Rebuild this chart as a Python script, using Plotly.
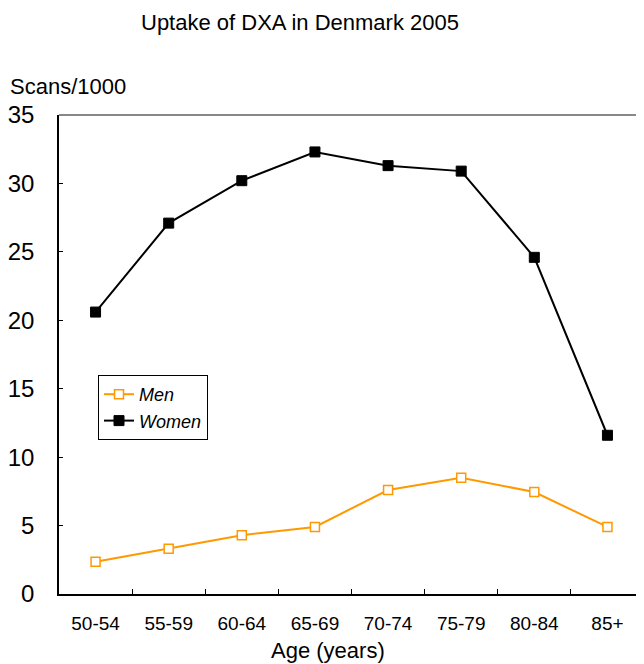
import plotly.graph_objects as go

categories = ["50-54", "55-59", "60-64", "65-69", "70-74", "75-79", "80-84", "85+"]
men = [2.35, 3.3, 4.3, 4.9, 7.6, 8.5, 7.45, 4.9]
women = [20.6, 27.1, 30.2, 32.3, 31.3, 30.9, 24.6, 11.6]
y_ticks = [0, 5, 10, 15, 20, 25, 30, 35]

FONT = "Liberation Sans, Arial, sans-serif"
ORANGE = "#FF9900"

# page offset (browser body margin)
OFF = 8
W, H = 644 - OFF, 664 - OFF
L, T = 59 - OFF, 115 - OFF
B = H - (594 - OFF)
PW, PH = W - L, H - T - B


def px(x):
    return (x - OFF - L) / PW


def py(y):
    return (H - B - (y - OFF)) / PH


fig = go.Figure()
fig.add_trace(go.Scatter(
    x=categories, y=men, name="Men", mode="lines+markers",
    line=dict(color=ORANGE, width=2),
    marker=dict(symbol="square", size=9, color="white",
                line=dict(color=ORANGE, width=1.5)),
))
fig.add_trace(go.Scatter(
    x=categories, y=women, name="Women", mode="lines+markers",
    line=dict(color="black", width=2),
    marker=dict(symbol="square", size=10, color="black",
                line=dict(color="black", width=1)),
))

fig.update_layout(
    width=W, height=H,
    margin=dict(l=L, r=0, t=T, b=B),
    paper_bgcolor="white", plot_bgcolor="white",
    font=dict(family=FONT, color="black"),
    showlegend=True,
    legend=dict(
        x=px(98), y=py(375), xanchor="left", yanchor="top",
        bordercolor="black", borderwidth=1, bgcolor="white",
        font=dict(size=18, family=FONT, style="italic"),
        tracegroupgap=0, itemwidth=30,
    ),
    xaxis=dict(
        type="category", categoryorder="array", categoryarray=categories,
        range=[-0.5, 7.5],
        showgrid=False, zeroline=False,
        showline=True, linecolor="black", linewidth=1.5,
        ticks="inside", ticklen=5, tickcolor="black", tickson="boundaries",
        tickfont=dict(size=19, family=FONT),
        ticklabelstandoff=11,
    ),
    yaxis=dict(
        range=[0, 35], tickvals=y_ticks,
        showgrid=False, zeroline=False,
        showline=True, linecolor="black", linewidth=1.5,
        ticks="inside", ticklen=4, tickcolor="black",
        tickfont=dict(size=24, family=FONT),
        ticklabelstandoff=18,
    ),
    shapes=[dict(type="line", xref="paper", yref="paper", x0=0, x1=1, y0=1, y1=1,
                 line=dict(color="#888888", width=2))],
    annotations=[
        dict(text="Uptake of DXA in Denmark 2005", xref="paper", yref="paper",
             x=px(300), y=py(22), xanchor="center", yanchor="middle",
             showarrow=False, font=dict(size=22, family=FONT)),
        dict(text="Scans/1000", xref="paper", yref="paper",
             x=px(8), y=py(86), xanchor="left", yanchor="middle",
             showarrow=False, font=dict(size=22, family=FONT)),
        dict(text="Age (years)", xref="paper", yref="paper",
             x=px(328), y=py(650), xanchor="center", yanchor="middle",
             showarrow=False, font=dict(size=22, family=FONT)),
    ],
)

fig.write_html("out.html")
